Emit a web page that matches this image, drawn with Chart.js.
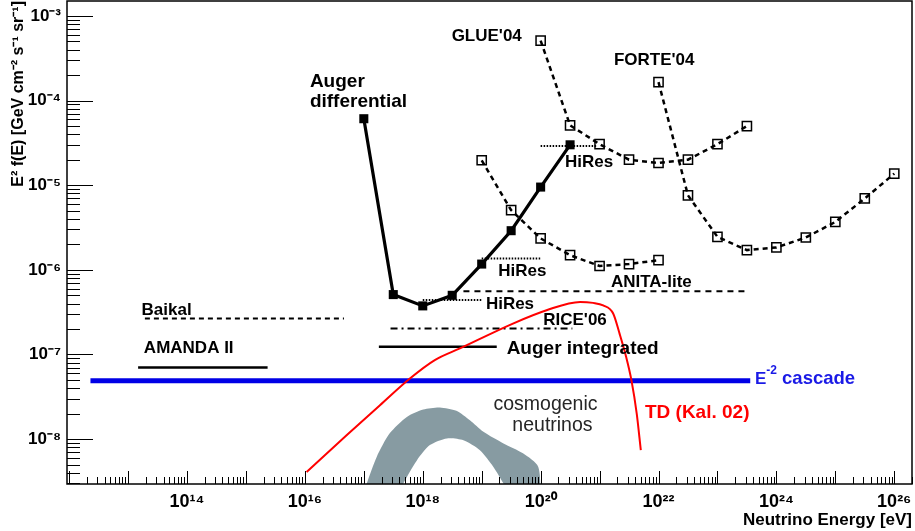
<!DOCTYPE html>
<html><head><meta charset="utf-8">
<script src="https://cdn.jsdelivr.net/npm/chart.js@4.4.1/dist/chart.umd.min.js"></script>
<style>html,body{margin:0;padding:0;background:#fff;overflow:hidden}#wrap{width:915px;height:531px}</style>
</head><body><div id="wrap"><canvas id="c" width="915" height="531"></canvas></div>
<script>
// ---------------- data (energies in eV, flux E^2 f(E) in GeV cm^-2 s^-1 sr^-1) ----------------
const augerDiffE    = [1e17, 3.16e17, 1e18, 3.16e18, 1e19, 3.16e19, 1e20, 3.16e20];
const augerDiffFlux = [6.1e-5, 5.1e-7, 3.75e-7, 5.0e-7, 1.17e-6, 2.9e-6, 9.5e-6, 3.0e-5];

const glueE    = [1e20, 3.16e20, 1e21, 3.16e21, 1e22, 3.16e22, 1e23, 3.16e23];
const glueFlux = [5.1e-4, 5.1e-5, 3.05e-5, 2.0e-5, 1.83e-5, 2.0e-5, 3.05e-5, 5.0e-5];

const forteE    = [1e22, 3.16e22, 1e23, 3.16e23, 1e24, 3.16e24, 1e25, 3.16e25, 1e26];
const forteFlux = [1.65e-4, 7.6e-6, 2.45e-6, 1.71e-6, 1.84e-6, 2.41e-6, 3.68e-6, 6.97e-6, 1.37e-5];

const anitaE    = [1e19, 3.16e19, 1e20, 3.16e20, 1e21, 3.16e21, 1e22];
const anitaFlux = [1.97e-5, 5.07e-6, 2.35e-6, 1.49e-6, 1.11e-6, 1.17e-6, 1.30e-6];

const hiresE    = [[1e20, 9.1e20], [1e19, 1e20], [1e18, 1e19]];
const hiresFlux = [2.9e-5, 1.36e-6, 4.4e-7];

const anitaLimitE    = [4.9e18, 2.9e23];
const anitaLimitFlux = 5.6e-7;
const baikalE        = [1.93e13, 4.6e16];
const baikalFlux     = 2.66e-7;
const amandaE        = [1.48e13, 2.33e15];
const amandaFlux     = 7.0e-8;
const riceE          = [2.84e17, 3.45e20];
const riceFlux       = 2.03e-7;
const augerIntE      = [1.8e17, 1.8e19];
const augerIntFlux   = 1.23e-7;
const cascadeE       = [2.3e12, 3.6e23];
const cascadeFlux    = 4.9e-8;

const tdE    = [1.07e16, 5.1e16, 1.88e17, 6.05e17, 1.6e18, 4.27e18, 3.39e19, 1.26e20, 4.68e20, 7.76e20, 1.15e21, 1.70e21, 2.19e21, 2.82e21, 3.47e21, 4.27e21, 5.01e21];
const tdFlux = [4.1e-9, 1.11e-8, 2.52e-8, 5.21e-8, 8.6e-8, 1.18e-7, 2.32e-7, 3.33e-7, 4.18e-7, 4.07e-7, 3.8e-7, 3.05e-7, 1.75e-7, 9.4e-8, 4.98e-8, 2.0e-8, 7.4e-9];

const cosmoUpperE    = [9.1e16, 1.12e17, 1.66e17, 2.75e17, 5.37e17, 1.02e18, 1.95e18, 3.72e18, 6.31e18, 1.07e19, 2.34e19, 5.01e19, 9.12e19, 9.12e19];
const cosmoUpperFlux = [2e-9, 3e-9, 6.2e-9, 1.17e-8, 1.83e-8, 2.24e-8, 2.37e-8, 2.16e-8, 1.67e-8, 1.22e-8, 8.9e-9, 6.8e-9, 4.7e-9, 2e-9];
const cosmoLowerE    = [3.47e17, 4.68e17, 7.94e17, 1.32e18, 2.57e18, 4.9e18, 9.33e18, 1.58e19, 2.34e19, 3.98e19];
const cosmoLowerFlux = [2e-9, 3e-9, 5.6e-9, 8.5e-9, 1.02e-8, 9.7e-9, 7.4e-9, 4.7e-9, 3e-9, 1.5e-9];

const xTickExponents = [14, 16, 18, 20, 22, 24, 26];
const yTickExponents = [-8, -7, -6, -5, -4, -3];
const xRange = [9.2e11, 2.0e26];
const yRange = [2.95e-9, 1.5e-3];

// ---------------- helpers ----------------
const FAM = "'Liberation Sans', Arial, Helvetica, sans-serif";
const SUP = {'0':'⁰','1':'¹','2':'²','3':'³','4':'⁴','5':'⁵','6':'⁶','7':'⁷','8':'⁸','9':'⁹','-':'⁻'};
const sup = s => String(s).split('').map(c => SUP[c] || c).join('');
const pts = (xs, ys) => xs.map((x, i) => ({x, y: ys[i]}));
const hseg = (xs, y) => [{x: xs[0], y}, {x: xs[1], y}];

const cosmoPolygon = pts(cosmoUpperE, cosmoUpperFlux).concat(pts(cosmoLowerE, cosmoLowerFlux).reverse());

const base = {pointRadius: 0, fill: false, tension: 0, borderColor: '#000', backgroundColor: '#000'};
const openSq = {pointStyle: 'rect', pointRadius: 6.5, pointBorderWidth: 1.5, pointBorderColor: '#000',
                pointBackgroundColor: 'rgba(0,0,0,0)', borderWidth: 2.5, borderDash: [5, 4], borderColor: '#000'};

const datasets = [
  Object.assign({}, base, {label: 'TD (Kal. 02)', data: pts(tdE, tdFlux), borderColor: '#ff0000', borderWidth: 2, cubicInterpolationMode: 'monotone', order: -2}),
  Object.assign({}, base, {label: 'Auger differential', data: pts(augerDiffE, augerDiffFlux), borderWidth: 3.2,
      pointStyle: 'rect', pointRadius: 6.4, pointBackgroundColor: '#000', pointBorderColor: '#000', pointBorderWidth: 0, order: -1}),
  Object.assign({}, base, openSq, {label: "GLUE'04", data: pts(glueE, glueFlux)}),
  Object.assign({}, base, openSq, {label: "FORTE'04", data: pts(forteE, forteFlux)}),
  Object.assign({}, base, openSq, {label: 'ANITA-lite', data: pts(anitaE, anitaFlux)}),
  Object.assign({}, base, {label: 'HiRes 1', data: hseg(hiresE[0], hiresFlux[0]), borderWidth: 2, borderDash: [1.5, 1.5]}),
  Object.assign({}, base, {label: 'HiRes 2', data: hseg(hiresE[1], hiresFlux[1]), borderWidth: 2, borderDash: [1.5, 1.5]}),
  Object.assign({}, base, {label: 'HiRes 3', data: hseg(hiresE[2], hiresFlux[2]), borderWidth: 2, borderDash: [1.5, 1.5]}),
  Object.assign({}, base, {label: 'ANITA-lite limit', data: hseg(anitaLimitE, anitaLimitFlux), borderWidth: 2, borderDash: [6, 5]}),
  Object.assign({}, base, {label: 'Baikal', data: hseg(baikalE, baikalFlux), borderWidth: 2, borderDash: [5, 4]}),
  Object.assign({}, base, {label: 'AMANDA II', data: hseg(amandaE, amandaFlux), borderWidth: 2.5}),
  Object.assign({}, base, {label: "RICE'06", data: hseg(riceE, riceFlux), borderWidth: 2, borderDash: [7, 4, 2, 4]}),
  Object.assign({}, base, {label: 'Auger integrated', data: hseg(augerIntE, augerIntFlux), borderWidth: 2.5}),
  Object.assign({}, base, {label: 'E-2 cascade', data: hseg(cascadeE, cascadeFlux), borderWidth: 5, borderColor: '#0000e6', order: 0}),
  Object.assign({}, base, {label: 'cosmogenic neutrinos', data: cosmoPolygon, borderWidth: 0, borderColor: 'rgba(0,0,0,0)',
      backgroundColor: '#879ba2', fill: 'shape', tension: 0.25, order: 10})
];

// text annotations: xe = log10(E), ye = log10(flux) of the left/baseline anchor
const notes = [
  {t: "GLUE'04", xe: 18.49, ye: -3.295},
  {t: "FORTE'04", xe: 21.243, ye: -3.582},
  {t: 'Auger', xe: 16.085, ye: -3.839, size: 19},
  {t: 'differential', xe: 16.085, ye: -4.082, size: 19},
  {t: 'HiRes', xe: 20.412, ye: -4.784},
  {t: 'HiRes', xe: 19.28, ye: -6.075},
  {t: 'HiRes', xe: 19.071, ye: -6.457},
  {t: 'ANITA-lite', xe: 21.192, ye: -6.201},
  {t: "RICE'06", xe: 20.044, ye: -6.654},
  {t: 'Baikal', xe: 13.229, ye: -6.536},
  {t: 'AMANDA II', xe: 13.268, ye: -6.988},
  {t: 'Auger integrated', xe: 19.423, ye: -6.997, size: 19},
  {t: 'TD (Kal. 02)', xe: 21.77, ye: -7.756, size: 19, color: '#ff0000'},
  {t: 'cosmogenic', xe: 19.2, ye: -7.658, size: 19.5, weight: 'normal', color: '#262626'},
  {t: 'neutrinos', xe: 19.52, ye: -7.906, size: 19.5, weight: 'normal', color: '#262626'}
];
const cascadeNote = {xe: 23.636, ye: -7.343, color: '#1a1ae6'};

const decorPlugin = {
  id: 'decor',
  afterDatasetsDraw(chart) {
    const ctx = chart.ctx, a = chart.chartArea, xs = chart.scales.x, ys = chart.scales.y;
    ctx.save();
    ctx.strokeStyle = '#000';
    ctx.lineWidth = 1;
    ctx.beginPath();
    for (let n = 11; n <= 26; n++) for (let m = 1; m <= 9; m++) {
      const v = m * Math.pow(10, n);
      if (v < xs.min || v > xs.max) continue;
      const px = Math.round(xs.getPixelForValue(v)) + 0.5;
      const L = m === 1 ? 13 : 7;
      ctx.moveTo(px, a.bottom); ctx.lineTo(px, a.bottom - L);
    }
    for (let n = -9; n <= -2; n++) for (let m = 1; m <= 9; m++) {
      const v = m * Math.pow(10, n);
      if (v < ys.min || v > ys.max) continue;
      const py = Math.round(ys.getPixelForValue(v)) + 0.5;
      const L = m === 1 ? 26 : 13;
      ctx.moveTo(a.left, py); ctx.lineTo(a.left + L, py);
    }
    ctx.stroke();
    ctx.lineWidth = 1.5;
    ctx.strokeRect(a.left, a.top, a.right - a.left, a.bottom - a.top);
    ctx.restore();
  },
  afterDraw(chart) {
    const ctx = chart.ctx, xs = chart.scales.x, ys = chart.scales.y;
    ctx.save();
    ctx.textBaseline = 'alphabetic';
    ctx.textAlign = 'left';
    for (const n of notes) {
      const px = xs.getPixelForValue(Math.pow(10, n.xe));
      const py = ys.getPixelForValue(Math.pow(10, n.ye));
      ctx.font = (n.weight || 'bold') + ' ' + (n.size || 17) + 'px ' + FAM;
      ctx.fillStyle = n.color || '#000';
      ctx.fillText(n.t, px, py);
    }
    // E^-2 cascade
    let px = xs.getPixelForValue(Math.pow(10, cascadeNote.xe));
    const py = ys.getPixelForValue(Math.pow(10, cascadeNote.ye));
    ctx.fillStyle = cascadeNote.color;
    ctx.font = 'bold 17px ' + FAM;
    ctx.fillText('E', px, py);
    px += ctx.measureText('E').width;
    ctx.font = 'bold 12px ' + FAM;
    ctx.fillText('-2', px, py - 10);
    px += ctx.measureText('-2').width;
    ctx.font = 'bold 18.5px ' + FAM;
    ctx.fillText(' cascade', px, py);
    ctx.restore();
  }
};

new Chart(document.getElementById('c'), {
  type: 'line',
  data: {datasets},
  plugins: [decorPlugin],
  options: {
    responsive: false, animation: false, devicePixelRatio: 1,
    layout: {autoPadding: false, padding: {top: 1, right: 3, left: 0, bottom: 0}},
    plugins: {legend: {display: false}, tooltip: {enabled: false}},
    scales: {
      x: {
        type: 'logarithmic', position: 'bottom', min: xRange[0], max: xRange[1],
        afterBuildTicks: ax => { ax.ticks = xTickExponents.map(e => ({value: Math.pow(10, e)})); },
        afterFit: ax => { ax.height = 47; ax.paddingLeft = 0; ax.paddingRight = 0; ax.paddingTop = 0; ax.paddingBottom = 0; },
        grid: {display: false, drawTicks: false}, border: {display: false},
        ticks: {autoSkip: false, maxRotation: 0, padding: 7, color: '#000',
                font: {family: FAM, size: 18, weight: 'bold'},
                callback: v => '10' + sup(Math.round(Math.log10(v)))},
        title: {display: true, text: 'Neutrino Energy [eV]', align: 'end', color: '#000',
                font: {family: FAM, size: 17, weight: 'bold'}, padding: {top: 0, bottom: 0}}
      },
      y: {
        type: 'logarithmic', min: yRange[0], max: yRange[1],
        afterBuildTicks: ax => { ax.ticks = yTickExponents.map(e => ({value: Math.pow(10, e)})); },
        afterFit: ax => { ax.width = 67; ax.paddingLeft = 0; ax.paddingRight = 0; ax.paddingTop = 0; ax.paddingBottom = 0; },
        grid: {display: false, drawTicks: false}, border: {display: false},
        ticks: {autoSkip: false, padding: 6, color: '#000',
                font: {family: FAM, size: 17, weight: 'bold'},
                callback: v => '10' + sup(Math.round(Math.log10(v)))},
        title: {display: true, text: 'E² f(E) [GeV cm⁻² s⁻¹ sr⁻¹]', align: 'end', color: '#000',
                font: {family: FAM, size: 16, weight: 'bold'}, padding: {top: 9, bottom: 0}}
      }
    }
  }
});
</script>
</body></html>
